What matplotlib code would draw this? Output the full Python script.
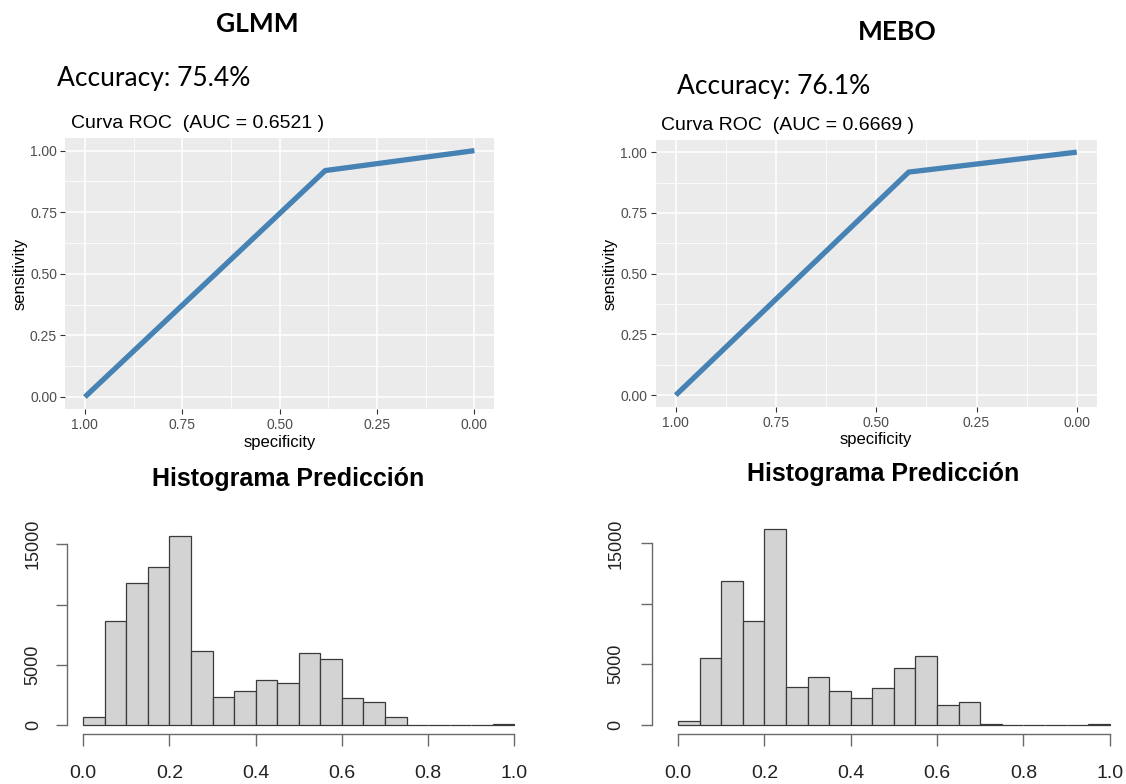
import matplotlib
matplotlib.use("Agg")
import matplotlib.pyplot as plt

W, H, DPI = 1126, 784, 100

# ---------------- data ----------------
model_names = ["GLMM", "MEBO"]
accuracy_pct = [75.4, 76.1]
auc_values = [0.6521, 0.6669]
roc_specificity = [[1.00, 0.383, 0.00], [1.00, 0.419, 0.00]]
roc_sensitivity = [[0.00, 0.919, 1.00], [0.00, 0.918, 1.00]]

bin_edges = [0.00, 0.05, 0.10, 0.15, 0.20, 0.25, 0.30, 0.35, 0.40, 0.45, 0.50,
             0.55, 0.60, 0.65, 0.70, 0.75, 0.80, 0.85, 0.90, 0.95, 1.00]
hist_glmm = [650, 8600, 11800, 13100, 15650, 6100, 2300, 2800, 3750, 3500,
             6000, 5450, 2200, 1900, 650, 0, 0, 0, 0, 80]
hist_mebo = [250, 5500, 11900, 8600, 16200, 3100, 3900, 2750, 2200, 3000,
             4700, 5700, 1600, 1900, 60, 0, 0, 0, 0, 60]

roc_ticks = [0.00, 0.25, 0.50, 0.75, 1.00]
roc_minor = [0.125, 0.375, 0.625, 0.875]
hist_xticks = [0.0, 0.2, 0.4, 0.6, 0.8, 1.0]
hist_yticks = [0, 5000, 10000, 15000]
hist_ylabels = ["0", "5000", "", "15000"]

# ---------------- figure ----------------
fig = plt.figure(figsize=(W / DPI, H / DPI), dpi=DPI)
fig.patch.set_facecolor("white")

def add_ax(x0, y0, x1, y1):
    return fig.add_axes([x0 / W, 1 - y1 / H, (x1 - x0) / W, (y1 - y0) / H])

def ftext(x, y, s, **kw):
    fig.text(x / W, 1 - y / H, s, **kw)

CAL = ["Lato", "DejaVu Sans"]
ARIAL = ["Liberation Sans", "DejaVu Sans"]

# ---------- ROC panels ----------
roc_boxes = [(65.4, 138.3, 493.9, 409.3), (655.7, 140.0, 1096.8, 407.3)]
for i in range(2):
    ax = add_ax(*roc_boxes[i])
    ax.set_facecolor("#EBEBEB")
    for s in ax.spines.values():
        s.set_visible(False)
    ax.set_xlim(1.05, -0.05)
    ax.set_ylim(-0.05, 1.05)
    ax.set_xticks(roc_ticks)
    ax.set_yticks(roc_ticks)
    ax.set_xticks(roc_minor, minor=True)
    ax.set_yticks(roc_minor, minor=True)
    ax.set_xticklabels([f"{t:.2f}" for t in roc_ticks], family=ARIAL)
    ax.set_yticklabels([f"{t:.2f}" for t in roc_ticks], family=ARIAL)
    ax.tick_params(which="major", length=3.5, width=0.8, color="#333333",
                   labelsize=10, labelcolor="#4D4D4D", pad=2.5)
    ax.tick_params(which="minor", length=0)
    ax.grid(which="major", color="white", lw=1.1)
    ax.grid(which="minor", color="white", lw=0.55)
    ax.set_axisbelow(True)
    ax.plot(roc_specificity[i], roc_sensitivity[i], color="#4682B4", lw=3.8,
            solid_capstyle="butt", solid_joinstyle="round")

# axis titles for ROC
ftext(279.6, 443, "specificity", ha="center", va="center", fontsize=12, family=ARIAL)
ftext(19.6, 274, "sensitivity", ha="center", va="center", fontsize=12, family=ARIAL, rotation=90)
ftext(876.2, 440, "specificity", ha="center", va="center", fontsize=12, family=ARIAL)
ftext(610.5, 274, "sensitivity", ha="center", va="center", fontsize=12, family=ARIAL, rotation=90)

# titles
ftext(257, 23.5, model_names[0], ha="center", va="center", fontsize=19, weight="bold", family=CAL)
ftext(897.5, 32, model_names[1], ha="center", va="center", fontsize=19, weight="bold", family=CAL)
ftext(57, 86, f"Accuracy: {accuracy_pct[0]}%", ha="left", va="baseline", fontsize=19, family=CAL)
ftext(677.3, 94, f"Accuracy: {accuracy_pct[1]}%", ha="left", va="baseline", fontsize=19, family=CAL)
ftext(70.7, 127.5, f"Curva ROC  (AUC = {auc_values[0]} )", ha="left", va="baseline", fontsize=14, family=ARIAL)
ftext(661, 130, f"Curva ROC  (AUC = {auc_values[1]} )", ha="left", va="baseline", fontsize=14, family=ARIAL)

# ---------- histograms ----------
hist_boxes = [(83.2, 725.0 - 16.5 * 12.05, 514.3, 725.0),
              (678.0, 724.5 - 17.0 * 12.07, 1109.8, 724.5)]
hist_ytop = [16500, 17000]
hist_data = [hist_glmm, hist_mebo]
left_out = [11.8, 18.4]
bottom_out = [6.5, 7.0]
ylab_pad = [10, 12]
title_pos = [(288.5, 479), (883, 474)]

for i in range(2):
    ax = add_ax(*hist_boxes[i])
    ax.set_xlim(0, 1)
    ax.set_ylim(0, hist_ytop[i])
    bars = ax.bar(bin_edges[:-1], hist_data[i], width=0.05, align="edge",
                  color="#D3D3D3", edgecolor="#3A3A3A", linewidth=0.9)
    for b in bars:
        b.set_clip_on(False)
    for s in ["top", "right"]:
        ax.spines[s].set_visible(False)
    ax.spines["left"].set_position(("outward", left_out[i]))
    ax.spines["bottom"].set_position(("outward", bottom_out[i]))
    ax.spines["left"].set_bounds(0, 15000)
    ax.spines["bottom"].set_bounds(0, 1)
    for s in ["left", "bottom"]:
        ax.spines[s].set_color("#6A6A6A")
        ax.spines[s].set_linewidth(1.0)
    ax.set_xticks(hist_xticks)
    ax.set_xticklabels([f"{t:.1f}" for t in hist_xticks], family=ARIAL)
    ax.set_yticks(hist_yticks)
    ax.set_yticklabels(hist_ylabels, family=ARIAL, rotation=90, va="center")
    ax.tick_params(axis="x", length=8.5, width=1.0, color="#6A6A6A",
                   labelsize=14, labelcolor="#222222", pad=13.5)
    ax.tick_params(axis="y", length=8, width=1.0, color="#6A6A6A",
                   labelsize=13, labelcolor="#222222", pad=ylab_pad[i])
    ftext(title_pos[i][0], title_pos[i][1], "Histograma Predicción", ha="center",
          va="center", fontsize=18, weight="bold", family=ARIAL)

fig.savefig("out.png", dpi=DPI)
